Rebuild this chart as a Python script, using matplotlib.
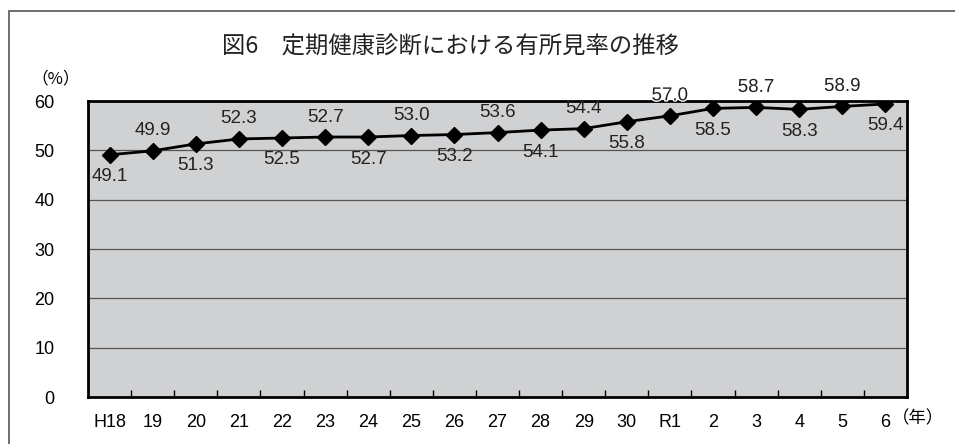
import matplotlib.pyplot as plt
import matplotlib.patheffects as pe
from matplotlib.patches import Rectangle

plt.rcParams['font.family'] = ['Liberation Sans', 'Noto Sans CJK JP', 'DejaVu Sans']

years = ["H18", "19", "20", "21", "22", "23", "24", "25", "26", "27",
         "28", "29", "30", "R1", "2", "3", "4", "5", "6"]
rates = [49.1, 49.9, 51.3, 52.3, 52.5, 52.7, 52.7, 53.0, 53.2, 53.6,
         54.1, 54.4, 55.8, 57.0, 58.5, 58.7, 58.3, 58.9, 59.4]

fig = plt.figure(figsize=(9.55, 4.44), dpi=100)
ax = fig.add_axes([88 / 955, 1 - 397 / 444, (907 - 88) / 955, (397 - 101) / 444])

# outer frame
fig.patches.append(Rectangle((9 / 955, -0.2), 1.0, 1 - 11 / 444 + 0.2,
                             transform=fig.transFigure, fill=False,
                             edgecolor="#555555", linewidth=1.2))

ax.set_facecolor("#d0d1d3")
x = list(range(len(years)))
ax.plot(x, rates, color="black", linewidth=2, marker="D", markersize=8.5, zorder=3)

for i, v in enumerate(rates):
    off = 20 if i % 2 == 1 else -22
    t = ax.annotate(f"{v:.1f}", (i, v), xytext=(0, off), textcoords="offset pixels",
                    ha="center", va="center", fontsize=13.5, color="#222222", zorder=4)
    if v + off / 4.93 > 60:
        t.set_path_effects([pe.withStroke(linewidth=2, foreground="white")])

ax.set_xlim(-0.5, len(years) - 0.5)
ax.set_ylim(0, 60)
ax.set_yticks(range(0, 61, 10))
ax.set_yticklabels([str(v) for v in range(0, 61, 10)], fontsize=13)
ax.set_xticks(x)
ax.set_xticklabels(years, fontsize=13)
ax.tick_params(axis="both", length=0, pad=12)
ax.tick_params(axis="y", pad=24)

# minor ticks at category boundaries, pointing inward
ax.set_xticks([i + 0.5 for i in x[:-1]], minor=True)
ax.tick_params(axis="x", which="minor", direction="in", length=5, width=1, color="black")

for y in range(10, 60, 10):
    ax.axhline(y, color="#555555", linewidth=0.9, zorder=1)

for s in ax.spines.values():
    s.set_linewidth(2)
    s.set_color("black")

fig.text(450 / 955, 1 - 47 / 444, "図6　定期健康診断における有所見率の推移",
         ha="center", va="center", fontsize=16.8, color="#222222",
         family=["Noto Sans CJK JP", "DejaVu Sans"])
fig.text(56 / 955, 1 - 79 / 444, "（%）", ha="center", va="center", fontsize=12,
         family=["Noto Sans CJK JP", "DejaVu Sans"])
fig.text(918 / 955, 1 - 418 / 444, "（年）", ha="center", va="center", fontsize=12.5,
         family=["Noto Sans CJK JP", "DejaVu Sans"])

fig.savefig("out.png", dpi=100)
